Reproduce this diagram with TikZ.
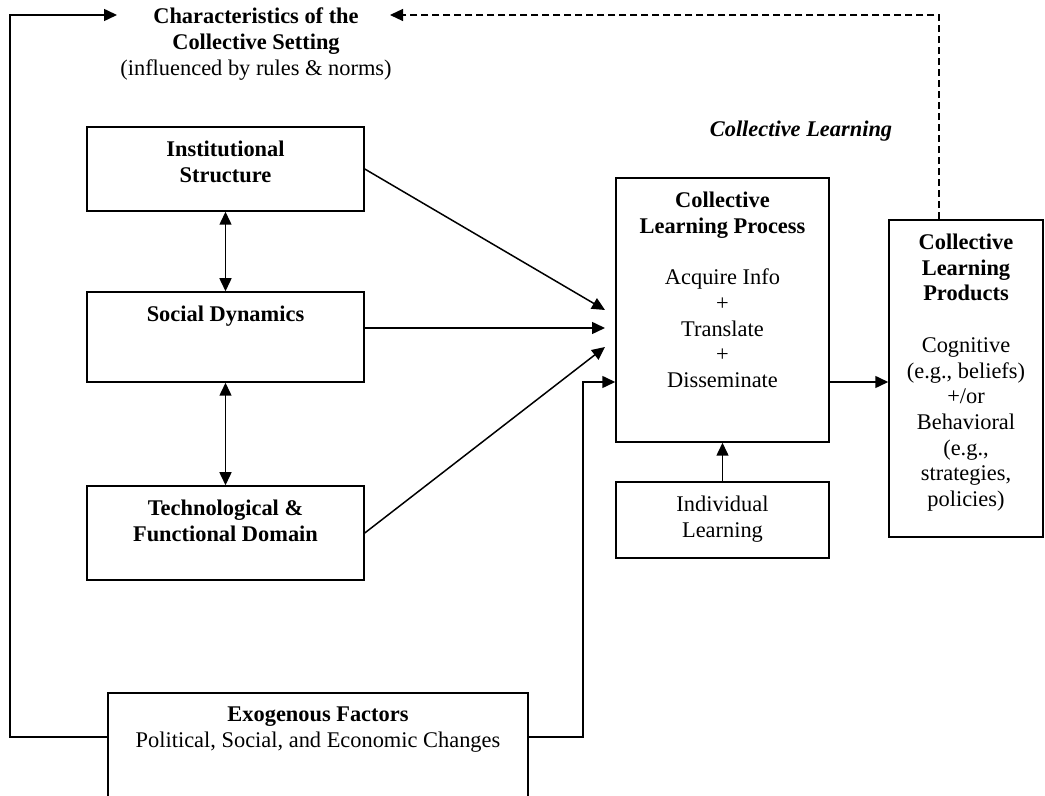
\documentclass[tikz,border=0pt]{standalone}
\usepackage{fontspec}
\setmainfont{Liberation Serif}
\usetikzlibrary{positioning,arrows.meta}
\newcommand\sz{\fontsize{11.2}{12.85}\selectfont}
\begin{document}
\begin{tikzpicture}[x=0.5pt,y=-0.5pt,line width=0.75pt,
  >={Triangle[length=6.5pt,width=6pt]},
  box/.style={draw,inner sep=0pt},
  txt/.style={inner sep=0pt,align=center,font=\sz},
  hd/.style={inner sep=0pt,align=center,font=\sz\bfseries}]
\useasboundingbox (0,0) rectangle (1045,796);
\node[box,minimum width=138.5pt,minimum height=42pt] (inst) at (225.5,169) {};
\node[box,minimum width=138.5pt,minimum height=45pt] (soc) at (225.5,337) {};
\node[box,minimum width=138.5pt,minimum height=47pt] (tech) at (225.5,533) {};
\node[box,minimum width=106.5pt,minimum height=132pt] (clp) at (722.5,310) {};
\node[box,minimum width=106.5pt,minimum height=38pt] (ind) at (722.5,520) {};
\node[box,minimum width=77pt,minimum height=158.5pt] (prod) at (966,378.5) {};
\node[box,minimum width=210pt,minimum height=75pt] (exo) at (318,768) {};
\node[txt] (ttl) at (256,44) {\textbf{Characteristics of the}\\\textbf{Collective Setting}\\(influenced by rules \& norms)};
\node[hd,font=\sz\bfseries\itshape] (cl) at (801,131) {Collective Learning};
\node[hd,below=7pt of inst.north] (instT) {Institutional\\Structure};
\node[hd,below=7pt of soc.north] (socT) {Social Dynamics};
\node[hd,below=7pt of tech.north] (techT) {Technological \&\\Functional Domain};
\node[txt,below=7pt of clp.north] (clpT) {\textbf{Collective}\\\textbf{Learning Process}\\[12.85pt]Acquire Info\\+\\Translate\\+\\Disseminate};
\node[txt,below=7pt of ind.north] (indT) {Individual\\Learning};
\node[txt,below=7pt of prod.north] (prodT) {\textbf{Collective}\\\textbf{Learning}\\\textbf{Products}\\[12.85pt]Cognitive\\(e.g., beliefs)\\+/or\\Behavioral\\(e.g.,\\strategies,\\policies)};
\node[txt,below=7pt of exo.north] (exoT) {\textbf{Exogenous Factors}\\Political, Social, and Economic Changes};
\coordinate (in1) at (605,310);
\coordinate (in2) at (605,328);
\coordinate (in3) at (605,347);
\coordinate (ex) at (583,382);
\coordinate (lo) at (10,737);
\coordinate (tipL) at (117,15);
\coordinate (fb) at (939,15);
\coordinate (tipR) at (390,15);
\draw[<->] (inst) -- (soc);
\draw[<->] (soc) -- (tech);
\draw[->] (inst.east) -- (in1);
\draw[->] (soc.east |- in2) -- (in2);
\draw[->] (tech.east) -- (in3);
\draw[->] (exo.east |- lo) -| (ex) -- (ex -| clp.west);
\draw[->] (clp.east |- ex) -- (prod.west |- ex);
\draw[->] (ind) -- (clp);
\draw[->] (exo.west |- lo) -- (lo) |- (tipL);
\draw[->,line width=0.6pt,dash pattern=on 3.5pt off 2pt] (prod.north -| fb) -- (fb) -- (tipR);
\end{tikzpicture}
\end{document}
